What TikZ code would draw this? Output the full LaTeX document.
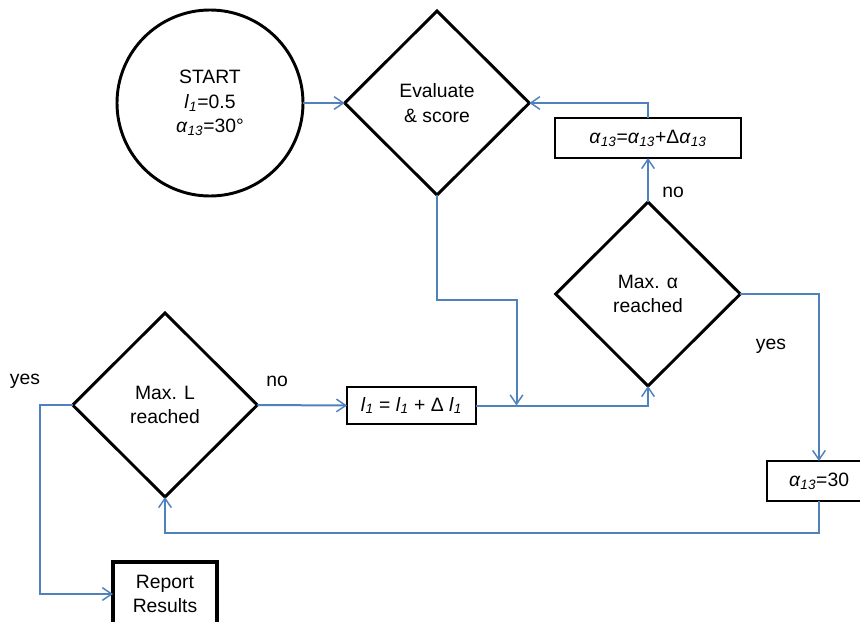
\documentclass[tikz,border=0pt]{standalone}
\usepackage{fontspec}
\setmainfont{Liberation Sans}
\usetikzlibrary{shapes.geometric,arrows.meta}
\newcommand{\lone}{\textit{l}\textsubscript{\textit{1}}}
\newcommand{\alp}{\textit{α}\textsubscript{\textit{13}}}
\begin{document}
\begin{tikzpicture}[x=0.75pt,y=-0.75pt,
  every node/.style={font=\fontsize{14.5}{18.5}\selectfont, align=center, inner sep=0pt, outer sep=0pt},
  dec/.style={diamond, aspect=1, draw=black, line width=2.2pt, minimum width=138.5pt, minimum height=138pt},
  startc/.style={circle, draw=black, line width=2.2pt, minimum size=139.5pt},
  pbox/.style={rectangle, draw=black, line width=1.4pt},
  rbox/.style={rectangle, draw=black, line width=3pt, minimum width=78pt, minimum height=48pt},
  conn/.style={draw={rgb,255:red,79;green,129;blue,189}, line width=1.5pt, -{Straight Barb[length=7pt,width=9.5pt,line width=1.1pt]}},
  lbl/.style={font=\fontsize{14.5}{18.5}\selectfont}
]
\useasboundingbox (0,0) rectangle (860,621);
\node[startc] (start) at (210,103) {START\\\lone=0.5\\\alp=30°};
\node[dec] (eval) at (437,103) {Evaluate\\\& score};
\node[pbox, minimum width=139.5pt, minimum height=30pt] (abox) at (648,138) {\alp=\alp+Δ\alp};
\node[dec] (malpha) at (648,294) {Max. α\\reached};
\node[pbox, minimum width=78pt, minimum height=30pt] (a30) at (819,481) {\alp=30};
\node[dec] (maxL) at (165,405) {Max. L\\reached};
\node[pbox, minimum width=96.75pt, minimum height=27.75pt] (lbox) at (411.5,405.5) {\lone{} = \lone{} + Δ \lone};
\node[rbox] (report) at (165,594) {Report\\Results};
\coordinate (j) at (516.5,405.5);

\node[lbl] (ly1) at (25,381) {yes};
\node[lbl] (ln1) at (277,381) {no};
\node[lbl] (ln2) at (673,192) {no};
\node[lbl] (ly2) at (771,346) {yes};

\draw[conn] (start.east) -- (eval.west);
\draw[conn] (abox.north) |- (eval.east);
\draw[conn] (malpha.north) -- (abox.south);
\draw[conn] (malpha.east) -| (a30.north);
\draw[conn] (a30.south) -- ++(0,32) -| (maxL.south);
\draw[conn] (maxL.west) -- ++(-33,0) |- (report.west);
\draw[conn] (maxL.east) -- (lbox.west);
\draw[conn] (lbox.east) -| (malpha.south);
\draw[conn] (eval.south) -- ++(0,105) -| (j);
\end{tikzpicture}
\end{document}
